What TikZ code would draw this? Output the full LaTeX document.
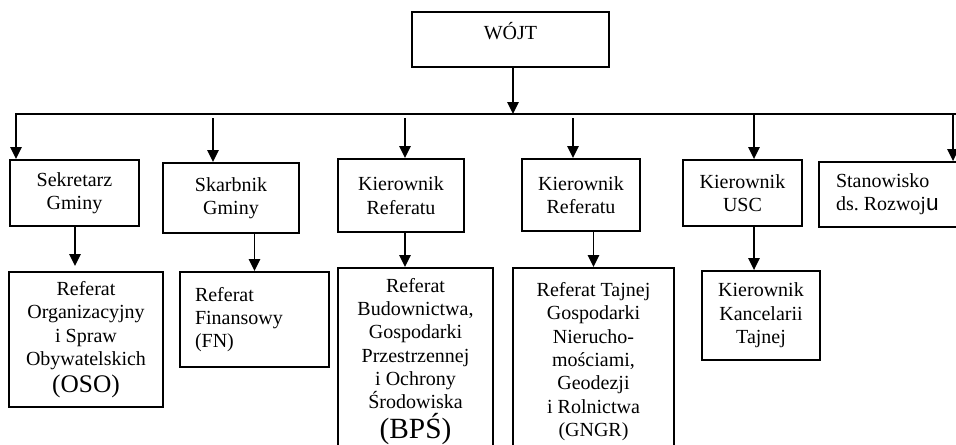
\documentclass[tikz,border=0pt]{standalone}
\usepackage{fontspec}
\setmainfont{Liberation Serif}
\newfontfamily\sanslettr{Liberation Sans}
\usetikzlibrary{arrows.meta,calc}
\frenchspacing

\begin{document}
\begin{tikzpicture}[
  x=0.75pt, y=-0.75pt,
  line width=1.4pt,
  font=\fontsize{15pt}{17.5pt}\selectfont,
  orgbox/.style 2 args={draw, rectangle, align=flush center, inner sep=0pt,
    text width=(#1-8)*0.75pt,
    minimum width=#1*0.75pt, minimum height=#2*0.75pt},
  leftbox/.style 2 args={draw, rectangle, align=flush left, inner ysep=0pt,
    inner xsep=#2*0.75pt, text width=(#1-2*#2)*0.75pt},
  arr/.style={-{Triangle[width=8.5pt,length=9pt]}}
]
\useasboundingbox (0,0) rectangle (956,444);
\clip (0,0) rectangle (956,444);

% head of the office
\node[orgbox={197}{55}, text height=10pt, text depth=10pt] (wojt) at (510.5,39.5) {WÓJT};

% first level
\node[orgbox={129}{66}] (sek)   at (74.5,193)  {Sekretarz\\Gminy};
\node[orgbox={136}{70}] (skarb) at (231,198)   {Skarbnik\\Gminy};
\node[orgbox={126}{73}] (kref1) at (401,195.5) {Kierownik\\Referatu};
\node[orgbox={118}{72}] (kref2) at (581,195)   {Kierownik\\Referatu};
\node[orgbox={119}{66}] (kusc)  at (742.5,193) {Kierownik\\USC};
\node[leftbox={156}{17}, minimum height=65*0.75pt] (stan) at (897,194.5)
  {Stanowisko\\ds. Rozwoj{\sanslettr\fontsize{17pt}{17pt}\selectfont u}};

% second level
\node[orgbox={154}{135}] (oso) at (86,339.5)
  {Referat\\Organizacyjny\\i Spraw\\Obywatelskich\\[2.5pt]{\fontsize{19pt}{19pt}\selectfont (OSO)}};
\node[leftbox={149}{15}, minimum height=95*0.75pt] (fn) at (254.5,319.5)
  {Referat\\Finansowy\\(FN)};
\node[orgbox={155}{187}] (bps) at (415.5,361.5)
  {Referat\\Budownictwa,\\Gospodarki\\Przestrzennej\\i Ochrony\\Środowiska\\[2.5pt]{\fontsize{22pt}{22pt}\selectfont (BPŚ)}};
\node[orgbox={161}{187}] (gngr) at (593.5,361.5)
  {Referat Tajnej\\Gospodarki\\Nierucho-\\mościami,\\Geodezji\\i Rolnictwa\\(GNGR)};
\node[orgbox={118}{89}] (kanc) at (761,315.5)
  {Kierownik\\Kancelarii\\Tajnej};

% distribution bus
\coordinate (busL) at (16,114);
\coordinate (busR) at (960,114);
\coordinate (wj)   at (513,114);
\coordinate (s1)   at (213,118);
\coordinate (s2)   at (405,118);
\coordinate (s3)   at (573,118);
\coordinate (u1)   at (754,114);
\coordinate (r1)   at (953,114);

\draw[arr] (wojt.south -| wj) -- (wj);
\draw[arr] (busR) -- (busL) -- (busL |- sek.north);
\draw[arr] (s1) -- (s1 |- skarb.north);
\draw[arr] (s2) -- (s2 |- kref1.north);
\draw[arr] (s3) -- (s3 |- kref2.north);
\draw[arr] (u1) -- (u1 |- kusc.north);
\draw[arr] (r1) -- (r1 |- stan.north);

% links to the departments
\draw[arr, shorten >=5*0.75pt] (sek.south -| 75,0) -- (oso.north -| 75,0);
\draw[arr] (fn.north |- skarb.south) -- (fn.north);
\draw[arr] (kref1.south -| s2) -- (bps.north -| s2);
\draw[arr] (gngr.north |- kref2.south) -- (gngr.north);
\draw[arr] (kusc.south -| u1) -- (kanc.north -| u1);
\end{tikzpicture}
\end{document}
